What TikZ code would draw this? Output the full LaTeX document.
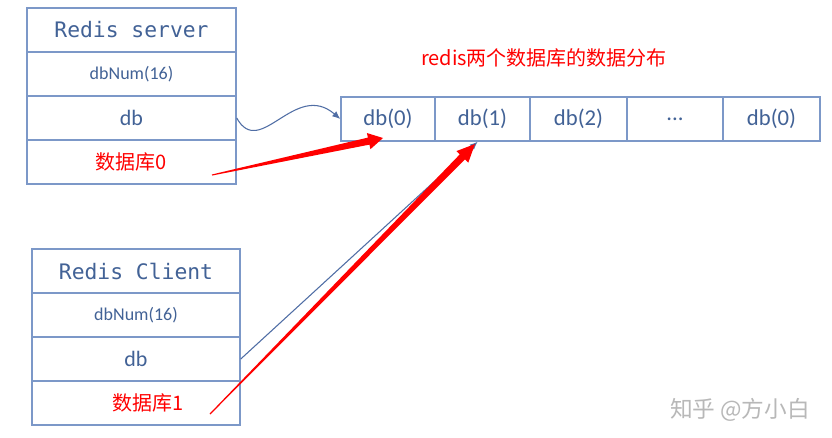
\documentclass[tikz,border=0pt]{standalone}
\usepackage{fontspec}
\setmainfont{Carlito}
\newfontfamily\cjkfont{Noto Sans CJK SC}
\newfontfamily\monofont{DejaVu Sans Mono}
\usetikzlibrary{calc,arrows.meta}
\definecolor{boxline}{RGB}{124,152,200}
\definecolor{boxtext}{RGB}{66,98,150}
\definecolor{conn}{RGB}{80,110,165}
\definecolor{redtext}{RGB}{255,0,0}
\newcommand{\redfatarrow}[4]{%
  \path coordinate (fb) at ($(#2)!#3!(#1)$);
  \fill[redtext] ($(#1)!0.4pt!90:(#2)$) -- ($(fb)!2.7pt!90:(#2)$) -- ($(fb)!#4!90:(#2)$) -- (#2)
    -- ($(fb)!#4!-90:(#2)$) -- ($(fb)!2.7pt!-90:(#2)$) -- ($(#1)!0.4pt!-90:(#2)$) -- cycle;}
\begin{document}
\begin{tikzpicture}[x=0.75pt,y=-0.75pt,
  cell/.style={draw=boxline, line width=1.1pt, inner sep=0pt, text=boxtext, minimum height=33pt},
  srvcell/.style={cell, minimum width=156.75pt},
  clicell/.style={cell, minimum width=156pt},
  headfont/.style={font=\monofont\fontsize{16}{19}\selectfont},
  numfont/.style={font=\fontsize{13.5}{16}\selectfont},
  dbfont/.style={font=\fontsize{16.5}{20}\selectfont},
  arrfont/.style={font=\fontsize{17}{20}\selectfont},
  redlabel/.style={text=redtext, font=\cjkfont\fontsize{15}{18}\selectfont},
  conn line/.style={draw=conn, line width=0.8pt, -{Latex[length=6pt,width=5pt]}}
]
\useasboundingbox (0,0) rectangle (832,437);
\fill[white] (0,0) rectangle (832,437);

% Redis server
\node[srvcell, headfont] (s0) at (131.5,30) {Redis server};
\node[srvcell, numfont] (s1) at (131.5,74) {dbNum(16)};
\node[srvcell, dbfont] (s2) at (131.5,118) {db};
\node[srvcell, redlabel] (s3) at (131.5,162) {数据库0};

% Redis client
\node[clicell, headfont] (c0) at (136,271) {Redis Client};
\node[clicell, numfont] (c1) at (136,315) {dbNum(16)};
\node[clicell, dbfont] (c2) at (136,359) {db};
\node[clicell, redlabel] (c3) at (136,403) {\hspace*{18pt}数据库1};

% db array
\node[cell, arrfont, minimum width=70.5pt] (a0) at (388,119) {db(0)};
\node[cell, arrfont, minimum width=71.25pt] (a1) at (482.5,119) {db(1)};
\node[cell, arrfont, minimum width=72.75pt] (a2) at (578.5,119) {db(2)};
\node[cell, arrfont, minimum width=72pt] (a3) at (675,119) {...};
\node[cell, arrfont, minimum width=72.75pt] (a4) at (771.5,119) {db(0)};

% title and watermark
\node[redlabel] (title) at (544,58) {redis两个数据库的数据分布};
\node[text=black!28, font=\cjkfont\fontsize{17}{20}\selectfont] (wm) at (740,410) {知乎 @方小白};

% blue connectors
\draw[conn line] (s2.east) .. controls (260,160) and (295,80) .. (a0.west);
\coordinate (h1b) at ($(a1.south west)!0.45!(a1.south east)$);
\draw[conn line] (c2.east) -- (h1b);

% red arrows
\coordinate (t0) at (212,175);
\coordinate (h0) at (383,138);
\coordinate (t1) at (210,414);
\coordinate (h1) at (475,144);
\redfatarrow{t0}{h0}{11pt}{6.2pt}
\redfatarrow{t1}{h1}{13.5pt}{6.2pt}
\end{tikzpicture}
\end{document}
